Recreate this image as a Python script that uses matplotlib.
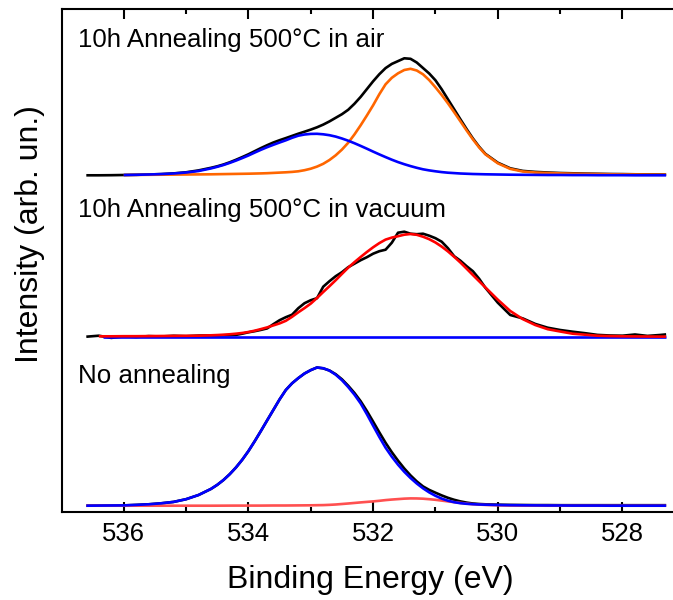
import numpy as np
import matplotlib
matplotlib.use("Agg")
import matplotlib.pyplot as plt

nan = np.nan

# Binding energy grid (eV): coarse in the flat wings, 0.1 eV across the peaks
energy = ([536.6, 536.4, 536.2, 536.0, 535.8, 535.6, 535.4, 535.2, 535.0, 534.8] +
          [534.6, 534.5, 534.4, 534.3, 534.2, 534.1, 534.0,
           533.9, 533.8, 533.7, 533.6, 533.5, 533.4, 533.3, 533.2, 533.1, 533.0,
           532.9, 532.8, 532.7, 532.6, 532.5, 532.4, 532.3, 532.2, 532.1, 532.0,
           531.9, 531.8, 531.7, 531.6, 531.5, 531.4, 531.3, 531.2, 531.1, 531.0,
           530.9, 530.8, 530.7, 530.6, 530.5, 530.4, 530.3, 530.2] +
          [530.0, 529.8, 529.6, 529.4, 529.2, 529.0, 528.8, 528.6, 528.4, 528.2,
           528.0, 527.8, 527.6, 527.4, 527.3])

# --- 10h annealing 500 C in air ---
air_total = ([0.0, 0.0, 0.1, 0.3, 0.5, 0.8, 1.2, 1.9, 3.0, 4.9] +
             [7.5, 9.0, 10.8, 13.0, 15.5, 18.2, 21.0,
              24.1, 27.2, 30.1, 32.8, 35.1, 37.2, 39.4, 41.6, 43.6, 45.7,
              48.0, 50.7, 53.9, 57.5, 61.1, 65.5, 71.5, 78.4, 86.2, 94.0,
              101.1, 107.2, 111.4, 114.2, 117.0, 116.5, 112.8, 107.3, 101.8, 95.0,
              86.0, 76.0, 66.0, 56.0, 46.2, 36.9, 28.6, 21.5] +
             [12.6, 7.0, 4.4, 3.4, 2.8, 2.3, 2.0, 1.7, 1.5, 1.3, 1.2, 1.0, 0.9, 0.8, 0.7])
air_peak_low = ([nan, nan, nan, 0.3, 0.4, 0.5, 0.6, 0.7, 0.8, 0.9] +
                [1.0, 1.1, 1.2, 1.3, 1.4, 1.5, 1.6,
                 1.75, 1.9, 2.1, 2.4, 2.7, 3.0, 3.4, 4.0, 5.1, 6.6,
                 8.7, 11.5, 15.3, 20.0, 25.7, 32.5, 40.8, 50.0, 59.8, 70.0,
                 81.1, 91.0, 97.5, 102.0, 105.3, 106.5, 104.8, 101.0, 95.2, 88.0,
                 80.3, 72.0, 63.1, 54.0, 44.8, 36.0, 27.9, 21.0] +
                [12.0, 6.4, 3.8, 2.8, 2.3, 1.9, 1.6, 1.4, 1.2, 1.0, 0.9, 0.8, 0.7, 0.6, 0.6])
air_peak_high = ([nan, nan, nan, 0.3, 0.5, 0.8, 1.2, 1.8, 2.8, 4.3] +
                 [6.9, 8.5, 10.3, 12.4, 14.7, 17.2, 19.8,
                  22.7, 25.5, 28.1, 30.5, 32.8, 35.0, 37.5, 39.6, 40.8, 41.4,
                  41.5, 41.0, 40.1, 38.7, 36.8, 34.6, 32.1, 29.4, 26.6, 23.7,
                  20.9, 18.2, 15.6, 13.2, 11.1, 9.2, 7.5, 6.0, 4.9, 4.0,
                  3.2, 2.6, 2.2, 1.8, 1.55, 1.3, 1.15, 1.0] +
                 [0.8, 0.6, 0.5, 0.4, 0.3, 0.3, 0.2, 0.2, 0.1, 0.1, 0.1, 0.0, 0.0, 0.0, 0.0])

# --- 10h annealing 500 C in vacuum ---
vac_total = ([0.0, 1.0, -1.2, 0.3, -0.3, 0.6, 0.2, 0.9, 0.5, 1.1] +
             [1.3, 1.2, 1.4, 1.5, 1.8, 3.0, 4.4,
              5.5, 6.8, 8.3, 12.5, 16.5, 19.5, 22.0, 28.5, 33.5, 36.5,
              38.5, 50.0, 55.5, 60.5, 64.5, 69.5, 73.0, 76.5, 79.5, 83.0,
              85.5, 87.0, 94.0, 104.0, 105.0, 103.0, 102.5, 103.0, 101.0, 98.5,
              95.0, 88.5, 80.5, 76.0, 70.5, 65.5, 58.0, 49.0] +
             [34.0, 21.7, 18.3, 12.8, 9.0, 6.7, 5.0, 3.5, 1.8, 1.2, 1.0, 2.2, 0.8, 1.7, 2.3])
vac_peak_low = ([nan, 0.4, 0.4, 0.5, 0.5, 0.6, 0.7, 0.8, 0.9, 1.0] +
                [1.4, 1.66, 2.0, 2.43, 3.0, 3.73, 4.7,
                 6.0, 7.6, 9.3, 11.3, 13.3, 15.9, 19.9, 24.4, 28.6, 33.1,
                 38.7, 44.7, 50.5, 56.5, 62.8, 69.0, 74.5, 79.7, 84.7, 89.4,
                 93.6, 97.1, 99.1, 100.5, 102.0, 102.7, 101.9, 100.0, 97.5, 94.2,
                 90.1, 85.3, 79.9, 74.2, 68.0, 61.7, 55.5, 49.3] +
                [37.0, 25.7, 17.6, 11.7, 7.5, 5.2, 3.0, 2.0, 1.0, 0.6, 0.4, 0.3, 0.2, 0.1, 0.1])
vac_bg_energy = [536.33, 527.3]
vac_bg = [0.0, 0.0]

# --- No annealing ---
none_total = ([0.0, 0.1, 0.2, 0.3, 0.8, 1.4, 2.4, 3.8, 6.5, 10.7] +
              [16.8, 20.85, 25.7, 31.5, 38.2, 45.9, 54.6,
               64.4, 74.7, 85.3, 95.8, 106.3, 115.7, 122.4, 127.6, 132.2, 135.6,
               138.2, 137.3, 135.2, 131.5, 126.4, 120.0, 112.8, 104.5, 94.7, 84.1,
               73.3, 62.9, 53.5, 45.0, 37.2, 30.3, 24.3, 19.3, 15.8, 13.0,
               10.3, 7.9, 5.9, 4.3, 3.1, 2.2, 1.7, 1.4] +
              [1.0, 0.8, 0.7, 0.6, 0.6, 0.5, 0.5, 0.5, 0.5, 0.5, 0.5, 0.5, 0.5, 0.5, 0.5])
none_peak_high = ([0.0, 0.1, 0.2, 0.3, 0.8, 1.4, 2.4, 3.8, 6.5, 10.7] +
                  [16.8, 20.85, 25.7, 31.5, 38.2, 45.9, 54.6,
                   64.4, 74.7, 85.3, 95.8, 106.3, 115.7, 122.4, 127.6, 132.2, 135.6,
                   138.2, 137.5, 135.1, 131.0, 125.5, 118.7, 111.1, 102.3, 91.5, 80.0,
                   68.7, 58.0, 49.0, 41.0, 33.9, 27.7, 22.2, 17.4, 13.3, 9.9,
                   7.1, 5.0, 3.5, 2.5, 1.9, 1.5, 1.2, 1.0] +
                  [0.7, 0.5, 0.4, 0.3, 0.2, 0.2, 0.1, 0.1, 0.1, 0.0, 0.0, 0.0, 0.0, 0.0, 0.0])
none_peak_low = ([0.0, 0.0, 0.0, 0.0, 0.0, 0.0, 0.0, 0.0, 0.0, 0.0] +
                 [0.0, 0.02, 0.05, 0.08, 0.1, 0.1, 0.1,
                  0.1, 0.1, 0.15, 0.2, 0.2, 0.2, 0.25, 0.3, 0.35, 0.4,
                  0.5, 0.6, 0.85, 1.2, 1.7, 2.2, 2.75, 3.3, 3.8, 4.3,
                  4.9, 5.6, 6.15, 6.6, 7.05, 7.3, 7.25, 7.0, 6.5, 5.9,
                  5.1, 4.3, 3.55, 2.8, 2.1, 1.5, 1.1, 0.8] +
                 [0.4, 0.2, 0.1, 0.05, 0.0, 0.0, 0.0, 0.0, 0.0, 0.0, 0.0, 0.0, 0.0, 0.0, 0.0])

panel_labels = ["10h Annealing 500°C in air",
                "10h Annealing 500°C in vacuum",
                "No annealing"]
x_ticks = [536, 534, 532, 530, 528]
x_minor = [535, 533, 531, 529]

# ---- layout ----
W, H = 673, 600
plt.rcParams['font.family'] = ['Liberation Sans', 'DejaVu Sans']
fig = plt.figure(figsize=(W / 100, H / 100), dpi=100)
ax_l, ax_r, ax_t, ax_b = 62, 673, 9, 512
ax = fig.add_axes([ax_l / W, 1 - ax_b / H, (ax_r - ax_l) / W, (ax_b - ax_t) / H])

off_top, off_mid, off_bot = 336.7, 175.3, 6.3
lw = 1.9
E = np.array(energy)

def plot(x, vals, off, color, z):
    ax.plot(np.array(x), np.array(vals) + off, color=color, lw=lw, zorder=z,
            solid_joinstyle='round', solid_capstyle='butt')

# top panel
plot(E, air_total, off_top, 'black', 2)
plot(E, air_peak_low, off_top, '#ff6600', 3)
plot(E, air_peak_high, off_top, '#0000ff', 4)
# middle panel
plot(E, vac_total, off_mid, 'black', 2)
plot(vac_bg_energy, vac_bg, off_mid, '#0000ff', 3)
plot(E, vac_peak_low, off_mid, '#ff0000', 4)
# bottom panel
plot(E, none_total, off_bot, 'black', 2)
plot(E, none_peak_low, off_bot, '#ff5050', 3)
plot(E, none_peak_high, off_bot, '#0000ff', 4)

ax.set_xlim(536.99, 527.19)
ax.set_ylim(0, ax_b - ax_t)
ax.set_xticks(x_ticks)
ax.set_xticks(x_minor, minor=True)
ax.set_yticks([])
ax.tick_params(which='both', direction='in', top=True, bottom=True,
               left=False, right=False, width=1.5, labelsize=18.5, pad=7)
ax.tick_params(which='major', length=7.5)
ax.tick_params(which='minor', length=3.8)
for s in ['left', 'bottom', 'top']:
    ax.spines[s].set_linewidth(1.5)
ax.spines['right'].set_visible(False)

fs = 18.6
for lab, yb in zip(panel_labels, [46.7, 216.7, 383.3]):
    fig.text(78 / W, 1 - yb / H, lab, fontsize=fs, ha='left', va='baseline')

fig.text(370 / W, 1 - 588 / H, "Binding Energy (eV)", fontsize=23,
         ha='center', va='baseline')
fig.text(30 / W, 1 - 234 / H, "Intensity (arb. un.)", fontsize=23,
         ha='center', va='center', rotation=90)

fig.savefig("out.png", dpi=100)
